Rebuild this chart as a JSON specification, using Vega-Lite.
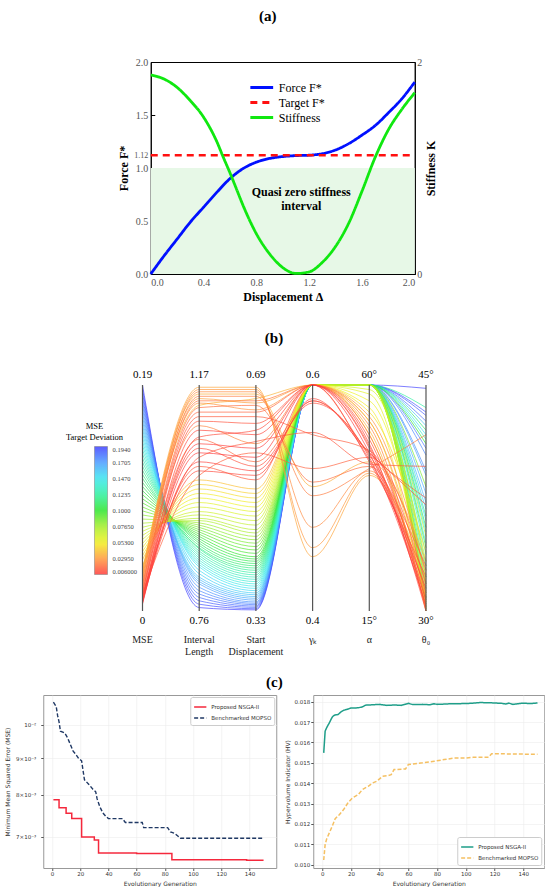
{
"$schema":"https://vega.github.io/schema/vega-lite/v6.json",
"background":"white",
"padding":{"left":4,"top":8,"right":0,"bottom":0},
"config":{"view":{"stroke":null},"title":{"font":"Liberation Serif","fontSize":15,"fontWeight":"bold","color":"#000","anchor":"middle"}},
"datasets":{
"force":[{"d":0,"F":0},{"d":0.1,"F":0.17},{"d":0.2,"F":0.33},{"d":0.3,"F":0.49},{"d":0.4,"F":0.63},{"d":0.5,"F":0.77},{"d":0.6,"F":0.9},{"d":0.7,"F":0.995},{"d":0.8,"F":1.055},{"d":0.9,"F":1.09},{"d":1.0,"F":1.108},{"d":1.1,"F":1.117},{"d":1.2,"F":1.121},{"d":1.3,"F":1.135},{"d":1.4,"F":1.17},{"d":1.5,"F":1.23},{"d":1.6,"F":1.31},{"d":1.7,"F":1.4},{"d":1.8,"F":1.52},{"d":1.9,"F":1.65},{"d":2.0,"F":1.81}],
"stiff":[{"d":0,"K":1.877},{"d":0.1,"K":1.84},{"d":0.2,"K":1.76},{"d":0.3,"K":1.635},{"d":0.4,"K":1.48},{"d":0.5,"K":1.25},{"d":0.55,"K":1.1},{"d":0.6,"K":0.955},{"d":0.65,"K":0.8},{"d":0.7,"K":0.645},{"d":0.8,"K":0.38},{"d":0.9,"K":0.19},{"d":1.0,"K":0.06},{"d":1.1,"K":0.005},{"d":1.2,"K":0.02},{"d":1.3,"K":0.11},{"d":1.4,"K":0.26},{"d":1.5,"K":0.48},{"d":1.6,"K":0.78},{"d":1.7,"K":1.1},{"d":1.8,"K":1.36},{"d":1.9,"K":1.55},{"d":2.0,"K":1.71}],
"pc":[
{"mse":0.194,"il":0.7662,"sd":0.3318,"g":0.6,"a":60,"t":44.78},
{"mse":0.1905,"il":0.7723,"sd":0.3336,"g":0.6,"a":60,"t":43.2},
{"mse":0.187,"il":0.7785,"sd":0.3358,"g":0.6,"a":60,"t":42.98},
{"mse":0.1835,"il":0.7846,"sd":0.3379,"g":0.6,"a":60,"t":42.6},
{"mse":0.18,"il":0.7908,"sd":0.3401,"g":0.6,"a":60,"t":40.8},
{"mse":0.1765,"il":0.7969,"sd":0.3422,"g":0.6,"a":60,"t":40.35},
{"mse":0.173,"il":0.8031,"sd":0.3444,"g":0.6,"a":60,"t":39.3},
{"mse":0.1696,"il":0.8092,"sd":0.3473,"g":0.6,"a":60,"t":39},
{"mse":0.1661,"il":0.8133,"sd":0.3502,"g":0.6,"a":60,"t":37.8},
{"mse":0.1626,"il":0.8174,"sd":0.353,"g":0.6,"a":60,"t":37.2},
{"mse":0.1591,"il":0.8215,"sd":0.3559,"g":0.6,"a":60,"t":42.3},
{"mse":0.1556,"il":0.8277,"sd":0.3588,"g":0.6,"a":60,"t":36.75},
{"mse":0.1521,"il":0.8338,"sd":0.3624,"g":0.6,"a":60,"t":36},
{"mse":0.1486,"il":0.84,"sd":0.366,"g":0.6,"a":60,"t":41.7},
{"mse":0.1451,"il":0.8441,"sd":0.3696,"g":0.6,"a":60,"t":35.25},
{"mse":0.1417,"il":0.8482,"sd":0.3732,"g":0.6,"a":60,"t":34.5},
{"mse":0.1382,"il":0.8523,"sd":0.3768,"g":0.6,"a":60,"t":33.75},
{"mse":0.1347,"il":0.8564,"sd":0.3804,"g":0.6,"a":60,"t":41.4},
{"mse":0.1312,"il":0.8605,"sd":0.384,"g":0.6,"a":60,"t":33},
{"mse":0.1277,"il":0.8646,"sd":0.3876,"g":0.6,"a":60,"t":32.25},
{"mse":0.1242,"il":0.8687,"sd":0.3912,"g":0.6,"a":60,"t":43.5},
{"mse":0.1207,"il":0.8728,"sd":0.3948,"g":0.6,"a":60,"t":36.3},
{"mse":0.1172,"il":0.8748,"sd":0.3984,"g":0.6,"a":60,"t":31.5},
{"mse":0.1138,"il":0.8789,"sd":0.402,"g":0.6,"a":60,"t":42},
{"mse":0.1103,"il":0.883,"sd":0.4056,"g":0.6,"a":60,"t":30.9},
{"mse":0.1068,"il":0.8871,"sd":0.4092,"g":0.6,"a":60,"t":35.55},
{"mse":0.1033,"il":0.8912,"sd":0.4128,"g":0.6,"a":60,"t":30.45},
{"mse":0.0998,"il":0.8953,"sd":0.4164,"g":0.6,"a":60,"t":41.1},
{"mse":0.0963,"il":0.8994,"sd":0.4218,"g":0.6,"a":60,"t":30.15},
{"mse":0.0928,"il":0.9035,"sd":0.4272,"g":0.6,"a":60,"t":34.2},
{"mse":0.0893,"il":0.9076,"sd":0.4326,"g":0.6,"a":60,"t":31.8},
{"mse":0.0859,"il":0.9117,"sd":0.438,"g":0.6,"a":60,"t":38.25},
{"mse":0.0824,"il":0.9158,"sd":0.4434,"g":0.6,"a":60,"t":30.75},
{"mse":0.0789,"il":0.9199,"sd":0.4488,"g":0.6,"a":60,"t":32.7},
{"mse":0.0754,"il":0.924,"sd":0.4542,"g":0.6,"a":60,"t":30.3},
{"mse":0.0719,"il":0.9281,"sd":0.4596,"g":0.6,"a":60,"t":34.95},
{"mse":0.0684,"il":0.9343,"sd":0.4668,"g":0.6,"a":60,"t":31.2},
{"mse":0.0649,"il":0.9404,"sd":0.474,"g":0.6,"a":60,"t":30},
{"mse":0.0614,"il":0.9486,"sd":0.4812,"g":0.6,"a":59.1,"t":33.3},
{"mse":0.058,"il":0.9568,"sd":0.4884,"g":0.6,"a":58.2,"t":30.6},
{"mse":0.0545,"il":0.965,"sd":0.4956,"g":0.6,"a":56.85,"t":32.1},
{"mse":0.051,"il":0.9732,"sd":0.5028,"g":0.6,"a":55.5,"t":30.15},
{"mse":0.0475,"il":0.9814,"sd":0.51,"g":0.6,"a":54.6,"t":33.9},
{"mse":0.044,"il":0.9896,"sd":0.5172,"g":0.6,"a":52.8,"t":30.9},
{"mse":0.039,"il":0.9978,"sd":0.5244,"g":0.6,"a":50.1,"t":31.05},
{"mse":0.036,"il":1.1331,"sd":0.6684,"g":0.6,"a":51,"t":30},
{"mse":0.0342,"il":1.1536,"sd":0.6756,"g":0.51,"a":44.7,"t":33.3},
{"mse":0.0324,"il":1.1659,"sd":0.6864,"g":0.448,"a":42,"t":31.95},
{"mse":0.0306,"il":1.1454,"sd":0.6612,"g":0.6,"a":52.8,"t":31.65},
{"mse":0.0288,"il":1.1618,"sd":0.6828,"g":0.456,"a":42.45,"t":30.3},
{"mse":0.027,"il":1.1372,"sd":0.6504,"g":0.6,"a":53.7,"t":32.4},
{"mse":0.0252,"il":1.1577,"sd":0.6792,"g":0.474,"a":42.9,"t":31.35},
{"mse":0.0234,"il":1.0962,"sd":0.5964,"g":0.6,"a":51.9,"t":30},
{"mse":0.0216,"il":1.1495,"sd":0.672,"g":0.502,"a":43.35,"t":41.7},
{"mse":0.0198,"il":1.1413,"sd":0.6648,"g":0.6,"a":50.1,"t":30.6},
{"mse":0.018,"il":1.129,"sd":0.6576,"g":0.514,"a":43.8,"t":30.15},
{"mse":0.0164,"il":1.0716,"sd":0.5676,"g":0.586,"a":46.05,"t":33},
{"mse":0.0156,"il":1.1208,"sd":0.6468,"g":0.6,"a":47.85,"t":30.9},
{"mse":0.0148,"il":1.006,"sd":0.582,"g":0.526,"a":45.6,"t":32.7},
{"mse":0.014,"il":1.1126,"sd":0.6396,"g":0.556,"a":46.95,"t":31.8},
{"mse":0.0132,"il":1.0224,"sd":0.5388,"g":0.6,"a":46.5,"t":37.5},
{"mse":0.0124,"il":1.0388,"sd":0.6,"g":0.558,"a":44.25,"t":39.6},
{"mse":0.0116,"il":1.1044,"sd":0.6288,"g":0.6,"a":49.2,"t":31.2},
{"mse":0.0108,"il":1.0552,"sd":0.5604,"g":0.584,"a":45.6,"t":30.45},
{"mse":0.01,"il":1.0757,"sd":0.618,"g":0.6,"a":44.7,"t":32.25},
{"mse":0.0092,"il":1.0142,"sd":0.546,"g":0.588,"a":46.5,"t":37.05},
{"mse":0.0084,"il":1.088,"sd":0.6108,"g":0.6,"a":48.3,"t":30},
{"mse":0.0076,"il":1.0306,"sd":0.5532,"g":0.586,"a":45.15,"t":31.5},
{"mse":0.0068,"il":1.0634,"sd":0.5892,"g":0.6,"a":47.4,"t":30.3},
{"mse":0.006,"il":1.047,"sd":0.5748,"g":0.6,"a":46.5,"t":30.75}
],
"pcaxes":[
{"key":"mseN","top":"0.19","bot":"0","name":"MSE"},
{"key":"ilN","top":"1.17","bot":"0.76","name":"Interval\nLength"},
{"key":"sdN","top":"0.69","bot":"0.33","name":"Start\nDisplacement"},
{"key":"gN","top":"0.6","bot":"0.4","name":"γₖ"},
{"key":"aN","top":"60°","bot":"15°","name":"α"},
{"key":"tN","top":"45°","bot":"30°","name":"θ₀"}
],
"c1":[
{"g":1,"v":0.00788,"m":"Proposed NSGA-II"},{"g":5,"v":0.00768,"m":"Proposed NSGA-II"},{"g":10,"v":0.00755,"m":"Proposed NSGA-II"},{"g":14,"v":0.00742,"m":"Proposed NSGA-II"},{"g":21,"v":0.007,"m":"Proposed NSGA-II"},{"g":30,"v":0.00693,"m":"Proposed NSGA-II"},{"g":33,"v":0.00665,"m":"Proposed NSGA-II"},{"g":60,"v":0.00664,"m":"Proposed NSGA-II"},{"g":85,"v":0.00651,"m":"Proposed NSGA-II"},{"g":138,"v":0.0065,"m":"Proposed NSGA-II"},{"g":150,"v":0.0065,"m":"Proposed NSGA-II"},
{"g":1,"v":0.01075,"m":"Benchmarked MOPSO"},{"g":2,"v":0.01068,"m":"Benchmarked MOPSO"},{"g":3,"v":0.0106,"m":"Benchmarked MOPSO"},{"g":4,"v":0.0103,"m":"Benchmarked MOPSO"},{"g":5,"v":0.0101,"m":"Benchmarked MOPSO"},{"g":6,"v":0.0098,"m":"Benchmarked MOPSO"},{"g":9,"v":0.00975,"m":"Benchmarked MOPSO"},{"g":11,"v":0.0096,"m":"Benchmarked MOPSO"},{"g":13,"v":0.0094,"m":"Benchmarked MOPSO"},{"g":15,"v":0.0092,"m":"Benchmarked MOPSO"},{"g":17,"v":0.0091,"m":"Benchmarked MOPSO"},{"g":19,"v":0.00898,"m":"Benchmarked MOPSO"},{"g":21,"v":0.00892,"m":"Benchmarked MOPSO"},{"g":23,"v":0.0084,"m":"Benchmarked MOPSO"},{"g":26,"v":0.00828,"m":"Benchmarked MOPSO"},{"g":29,"v":0.00815,"m":"Benchmarked MOPSO"},{"g":31,"v":0.00808,"m":"Benchmarked MOPSO"},{"g":32,"v":0.0079,"m":"Benchmarked MOPSO"},{"g":34,"v":0.0077,"m":"Benchmarked MOPSO"},{"g":36,"v":0.00756,"m":"Benchmarked MOPSO"},{"g":38,"v":0.00748,"m":"Benchmarked MOPSO"},{"g":40,"v":0.00742,"m":"Benchmarked MOPSO"},{"g":50,"v":0.00742,"m":"Benchmarked MOPSO"},{"g":52,"v":0.00733,"m":"Benchmarked MOPSO"},{"g":64,"v":0.00733,"m":"Benchmarked MOPSO"},{"g":65,"v":0.00721,"m":"Benchmarked MOPSO"},{"g":82,"v":0.00721,"m":"Benchmarked MOPSO"},{"g":84,"v":0.00711,"m":"Benchmarked MOPSO"},{"g":87,"v":0.00708,"m":"Benchmarked MOPSO"},{"g":91,"v":0.00697,"m":"Benchmarked MOPSO"},{"g":150,"v":0.00697,"m":"Benchmarked MOPSO"}
],
"c2":[
{"g":1,"v":0.01549,"m":"Proposed NSGA-II"},{"g":2,"v":0.01656,"m":"Proposed NSGA-II"},{"g":3,"v":0.01672,"m":"Proposed NSGA-II"},{"g":4,"v":0.01685,"m":"Proposed NSGA-II"},{"g":5,"v":0.01697,"m":"Proposed NSGA-II"},{"g":6,"v":0.01712,"m":"Proposed NSGA-II"},{"g":7,"v":0.01725,"m":"Proposed NSGA-II"},{"g":8,"v":0.01732,"m":"Proposed NSGA-II"},{"g":9,"v":0.01735,"m":"Proposed NSGA-II"},{"g":11,"v":0.01737,"m":"Proposed NSGA-II"},{"g":13,"v":0.0175,"m":"Proposed NSGA-II"},{"g":15,"v":0.01758,"m":"Proposed NSGA-II"},{"g":17,"v":0.01762,"m":"Proposed NSGA-II"},{"g":20,"v":0.01769,"m":"Proposed NSGA-II"},{"g":25,"v":0.0177,"m":"Proposed NSGA-II"},{"g":28,"v":0.01775,"m":"Proposed NSGA-II"},{"g":30,"v":0.01783,"m":"Proposed NSGA-II"},{"g":35,"v":0.01785,"m":"Proposed NSGA-II"},{"g":40,"v":0.01787,"m":"Proposed NSGA-II"},{"g":45,"v":0.01782,"m":"Proposed NSGA-II"},{"g":50,"v":0.01784,"m":"Proposed NSGA-II"},{"g":55,"v":0.01782,"m":"Proposed NSGA-II"},{"g":60,"v":0.01792,"m":"Proposed NSGA-II"},{"g":63,"v":0.01786,"m":"Proposed NSGA-II"},{"g":70,"v":0.01787,"m":"Proposed NSGA-II"},{"g":75,"v":0.01785,"m":"Proposed NSGA-II"},{"g":78,"v":0.0179,"m":"Proposed NSGA-II"},{"g":80,"v":0.01787,"m":"Proposed NSGA-II"},{"g":90,"v":0.0179,"m":"Proposed NSGA-II"},{"g":100,"v":0.01791,"m":"Proposed NSGA-II"},{"g":105,"v":0.01793,"m":"Proposed NSGA-II"},{"g":110,"v":0.01796,"m":"Proposed NSGA-II"},{"g":115,"v":0.01795,"m":"Proposed NSGA-II"},{"g":120,"v":0.01794,"m":"Proposed NSGA-II"},{"g":125,"v":0.01792,"m":"Proposed NSGA-II"},{"g":128,"v":0.01789,"m":"Proposed NSGA-II"},{"g":130,"v":0.01793,"m":"Proposed NSGA-II"},{"g":133,"v":0.01787,"m":"Proposed NSGA-II"},{"g":136,"v":0.0179,"m":"Proposed NSGA-II"},{"g":140,"v":0.01793,"m":"Proposed NSGA-II"},{"g":145,"v":0.01791,"m":"Proposed NSGA-II"},{"g":150,"v":0.01794,"m":"Proposed NSGA-II"},
{"g":1,"v":0.01023,"m":"Benchmarked MOPSO"},{"g":2,"v":0.011,"m":"Benchmarked MOPSO"},{"g":3,"v":0.01125,"m":"Benchmarked MOPSO"},{"g":5,"v":0.01158,"m":"Benchmarked MOPSO"},{"g":7,"v":0.0119,"m":"Benchmarked MOPSO"},{"g":9,"v":0.01226,"m":"Benchmarked MOPSO"},{"g":12,"v":0.01247,"m":"Benchmarked MOPSO"},{"g":15,"v":0.01272,"m":"Benchmarked MOPSO"},{"g":18,"v":0.01305,"m":"Benchmarked MOPSO"},{"g":21,"v":0.01328,"m":"Benchmarked MOPSO"},{"g":25,"v":0.01344,"m":"Benchmarked MOPSO"},{"g":28,"v":0.01369,"m":"Benchmarked MOPSO"},{"g":32,"v":0.01385,"m":"Benchmarked MOPSO"},{"g":35,"v":0.01401,"m":"Benchmarked MOPSO"},{"g":38,"v":0.0141,"m":"Benchmarked MOPSO"},{"g":42,"v":0.01434,"m":"Benchmarked MOPSO"},{"g":46,"v":0.01438,"m":"Benchmarked MOPSO"},{"g":48,"v":0.01442,"m":"Benchmarked MOPSO"},{"g":50,"v":0.01467,"m":"Benchmarked MOPSO"},{"g":58,"v":0.0147,"m":"Benchmarked MOPSO"},{"g":60,"v":0.01492,"m":"Benchmarked MOPSO"},{"g":70,"v":0.015,"m":"Benchmarked MOPSO"},{"g":78,"v":0.01508,"m":"Benchmarked MOPSO"},{"g":85,"v":0.01516,"m":"Benchmarked MOPSO"},{"g":92,"v":0.01524,"m":"Benchmarked MOPSO"},{"g":100,"v":0.01524,"m":"Benchmarked MOPSO"},{"g":105,"v":0.01527,"m":"Benchmarked MOPSO"},{"g":116,"v":0.01528,"m":"Benchmarked MOPSO"},{"g":118,"v":0.01545,"m":"Benchmarked MOPSO"},{"g":150,"v":0.01542,"m":"Benchmarked MOPSO"}
]
},
"center":true,
"spacing":16,
"resolve":{"scale":{"color":"independent","strokeDash":"independent"},"legend":{"color":"independent","strokeDash":"independent"}},
"vconcat":[
{
"center":true,
"spacing":28,
"resolve":{"scale":{"color":"independent","strokeDash":"independent"},"legend":{"color":"independent","strokeDash":"independent"}},
"vconcat":[
{
"title":{"text":"(a)","offset":33,"anchor":"middle","dx":-15},
"width":264,"height":212,
"view":{"stroke":"#000","strokeWidth":1},
"layer":[
{"layer":[
{"data":{"values":[{"d":0,"F":1},{"d":2,"F":1}]},
"mark":{"type":"area","color":"#e7f8e7"},
"encoding":{
"x":{"field":"d","type":"quantitative","scale":{"domain":[0,2],"nice":false,"zero":false},
"axis":{"values":[0,0.2,0.4,0.6,0.8,1,1.2,1.4,1.6,1.8,2],"format":".1f","title":"Displacement Δ","titleFont":"Liberation Serif","titleFontSize":12,"titleFontWeight":"bold","titleColor":"#000","titlePadding":4,"labelFont":"Liberation Serif","labelFontSize":10,"labelColor":"#555","tickSize":-4,"tickColor":"#000","labelPadding":7,"domainColor":"#000","grid":false}},
"y":{"field":"F","type":"quantitative","scale":{"domain":[0,2],"nice":false},
"axis":{"values":[0,0.5,1,1.12,1.5,2],"labelExpr":"datum.value == 1.12 ? '1.12' : format(datum.value, '.1f')","labelFontSize":{"condition":{"test":"datum.value == 1.12","value":8},"value":10},"title":"Force F*","titleFont":"Liberation Serif","titleFontSize":12,"titleFontWeight":"bold","titleColor":"#000","titlePadding":3,"labelFont":"Liberation Serif","labelColor":"#555","tickSize":-4,"tickColor":"#000","labelPadding":7,"domainColor":"#000","grid":false}}}},
{"data":{"name":"force"},
"transform":[{"calculate":"'Force F*'","as":"series"}],
"mark":{"type":"line","strokeWidth":2.8,"interpolate":"monotone"},
"encoding":{"x":{"field":"d","type":"quantitative"},"y":{"field":"F","type":"quantitative"},
"color":{"field":"series","type":"nominal","scale":{"domain":["Force F*","Target F*","Stiffness"],"range":["#0010ff","#ff1010","#10e810"]},
"legend":{"title":null,"orient":"none","legendX":98,"legendY":18,"symbolType":"stroke","symbolSize":520,"symbolStrokeWidth":3,"labelFont":"Liberation Serif","labelFontSize":12,"labelColor":"#000","rowPadding":0,"clipHeight":15,"labelOffset":4}},
"strokeDash":{"field":"series","type":"nominal","scale":{"domain":["Force F*","Target F*","Stiffness"],"range":[[1,0],[7,5],[1,0]]}}}},
{"data":{"values":[{"d":0,"F":1.12},{"d":2,"F":1.12}]},
"transform":[{"calculate":"'Target F*'","as":"series"}],
"mark":{"type":"line","strokeWidth":2.4},
"encoding":{"x":{"field":"d","type":"quantitative"},"y":{"field":"F","type":"quantitative"},
"color":{"field":"series","type":"nominal"},"strokeDash":{"field":"series","type":"nominal"}}},
{"data":{"values":[{"d":1.14,"F":0.772,"label":"Quasi zero stiffness\ninterval"}]},
"mark":{"type":"text","font":"Liberation Serif","fontSize":12,"fontWeight":"bold","lineBreak":"\n","lineHeight":13.5,"align":"center","baseline":"middle","color":"#000"},
"encoding":{"x":{"field":"d","type":"quantitative"},"y":{"field":"F","type":"quantitative"},"text":{"field":"label"}}}
]},
{"data":{"name":"stiff"},
"transform":[{"calculate":"'Stiffness'","as":"series"}],
"mark":{"type":"line","strokeWidth":2.8,"interpolate":"monotone"},
"encoding":{"x":{"field":"d","type":"quantitative"},
"y":{"field":"K","type":"quantitative","scale":{"domain":[0,2],"nice":false},
"axis":{"orient":"right","values":[0,1,2],"format":"d","title":"Stiffness K","titleAngle":270,"titleBaseline":"top","titleFont":"Liberation Serif","titleFontSize":12,"titleFontWeight":"bold","titleColor":"#000","titlePadding":4,"labelFont":"Liberation Serif","labelFontSize":10,"labelColor":"#555","tickSize":-4,"tickColor":"#000","labelPadding":6,"domainColor":"#000","grid":false}},
"color":{"field":"series","type":"nominal"},"strokeDash":{"field":"series","type":"nominal"}}}
],
"resolve":{"scale":{"y":"independent"}}
},
{
"title":{"text":"(b)","offset":23,"anchor":"middle","dx":-20},
"width":303,"height":226,
"layer":[
{"data":{"name":"pc"},
"transform":[
{"window":[{"op":"row_number","as":"id"}]},
{"calculate":"datum.mse/0.194","as":"mseN"},
{"calculate":"(datum.il-0.76)/0.41","as":"ilN"},
{"calculate":"(datum.sd-0.33)/0.36","as":"sdN"},
{"calculate":"(datum.g-0.4)/0.2","as":"gN"},
{"calculate":"(datum.a-15)/45","as":"aN"},
{"calculate":"(datum.t-30)/15","as":"tN"},
{"fold":["mseN","ilN","sdN","gN","aN","tN"],"as":["key","norm"]}
],
"mark":{"type":"line","strokeWidth":0.8,"opacity":0.85,"interpolate":"monotone"},
"encoding":{
"x":{"field":"key","type":"nominal","sort":["mseN","ilN","sdN","gN","aN","tN"],"scale":{"type":"point","padding":0.172,"align":0},"axis":null},
"y":{"field":"norm","type":"quantitative","scale":{"domain":[0,1],"nice":false,"zero":false},"axis":null},
"detail":{"field":"id","type":"quantitative"},
"color":{"field":"mse","type":"quantitative",
"scale":{"domain":[0.006,0.0295,0.053,0.0765,0.1,0.1235,0.147,0.1705,0.194],"range":["#ff3b3b","#ff9a3c","#f2f21e","#a6ee2a","#2ee62e","#2ef0a0","#3ae8f0","#4a9cff","#4040ff"],"interpolate":"rgb"},
"legend":{"orient":"none","legendX":-77,"legendY":37,"title":["MSE","Target Deviation"],"titleFont":"Liberation Serif","titleFontSize":8.5,"titleFontWeight":"normal","titleColor":"#000","titleAlign":"center","titleAnchor":"start","titleLineHeight":11,"titlePadding":5,"gradientLength":128,"gradientThickness":13,"gradientStrokeColor":"#666","gradientStrokeWidth":0.5,"values":[0.006,0.0295,0.053,0.0765,0.1,0.1235,0.147,0.1705,0.194],"format":".4r","labelFont":"Liberation Serif","labelFontSize":6.5,"labelColor":"#444","labelOffset":5,"labelOverlap":false,"direction":"vertical"}}}},
{"data":{"name":"pcaxes"},
"mark":{"type":"rule","color":"#555","strokeWidth":1.2},
"encoding":{"x":{"field":"key","type":"nominal","sort":["mseN","ilN","sdN","gN","aN","tN"],"axis":null},"y":{"datum":0,"axis":null},"y2":{"datum":1}}},
{"data":{"name":"pcaxes"},
"mark":{"type":"text","font":"Liberation Serif","fontSize":11,"baseline":"middle","dy":-10,"color":"#000"},
"encoding":{"x":{"field":"key","type":"nominal","sort":["mseN","ilN","sdN","gN","aN","tN"],"axis":null},"y":{"datum":1,"axis":null},"text":{"field":"top"}}},
{"data":{"name":"pcaxes"},
"mark":{"type":"text","font":"Liberation Serif","fontSize":11,"baseline":"middle","dy":10,"color":"#000"},
"encoding":{"x":{"field":"key","type":"nominal","sort":["mseN","ilN","sdN","gN","aN","tN"],"axis":null},"y":{"datum":0,"axis":null},"text":{"field":"bot"}}},
{"data":{"name":"pcaxes"},
"mark":{"type":"text","font":"Liberation Serif","fontSize":10,"baseline":"top","dy":24,"lineBreak":"\n","lineHeight":12.3,"color":"#222"},
"encoding":{"x":{"field":"key","type":"nominal","sort":["mseN","ilN","sdN","gN","aN","tN"],"axis":null},"y":{"datum":0,"axis":null},"text":{"field":"name"}}}
]
}
]
},
{
"title":{"text":"(c)","offset":5,"anchor":"middle"},
"spacing":6,
"resolve":{"scale":{"color":"independent","strokeDash":"independent"},"legend":{"color":"independent","strokeDash":"independent"}},
"hconcat":[
{
"width":233,"height":173,
"view":{"stroke":"#999","strokeWidth":1},
"data":{"name":"c1"},
"encoding":{
"x":{"field":"g","type":"quantitative","scale":{"domain":[-6.2,159],"nice":false,"zero":false},
"axis":{"values":[0,20,40,60,80,100,120,140],"title":"Evolutionary Generation","labelFont":"DejaVu Sans","labelFontSize":5.5,"labelColor":"#333","titleFont":"DejaVu Sans","titleFontSize":6,"titleFontWeight":"normal","titleColor":"#333","tickSize":2.5,"tickColor":"#555","domain":false,"grid":true,"gridColor":"#ececec","gridWidth":0.6,"labelPadding":1,"titlePadding":3}},
"y":{"field":"v","type":"quantitative","scale":{"type":"log","domain":[0.00634,0.011],"nice":false},
"axis":{"values":[0.007,0.008,0.009,0.01],"labelExpr":"datum.value > 0.0095 ? '10⁻²' : format(datum.value*1000,'.0f') + '×10⁻³'","title":"Minimum Mean Squared Error (MSE)","labelFont":"DejaVu Sans","labelFontSize":5.5,"labelColor":"#333","titleFont":"DejaVu Sans","titleFontSize":6,"titleFontWeight":"normal","titleColor":"#333","tickSize":2.5,"tickColor":"#555","domain":false,"grid":true,"gridColor":"#ececec","gridWidth":0.6,"labelPadding":5,"titlePadding":5}},
"color":{"field":"m","type":"nominal","scale":{"domain":["Proposed NSGA-II","Benchmarked MOPSO"],"range":["#f5283c","#1f3864"]},
"legend":{"title":null,"orient":"top-right","offset":2,"symbolType":"stroke","symbolSize":150,"symbolStrokeWidth":1.5,"labelFont":"DejaVu Sans","labelFontSize":5.5,"labelColor":"#333","strokeColor":"#ccc","fillColor":"#fff","padding":3,"cornerRadius":2,"rowPadding":-3}},
"strokeDash":{"field":"m","type":"nominal","scale":{"domain":["Proposed NSGA-II","Benchmarked MOPSO"],"range":[[1,0],[4,2]]}}
},
"layer":[
{"transform":[{"filter":"datum.m == 'Proposed NSGA-II'"}],"mark":{"type":"line","interpolate":"step-after","strokeWidth":1.5}},
{"transform":[{"filter":"datum.m == 'Benchmarked MOPSO'"}],"mark":{"type":"line","strokeWidth":1.4}}
]
},
{
"width":231,"height":173,
"view":{"stroke":"#999","strokeWidth":1},
"data":{"name":"c2"},
"mark":{"type":"line","strokeWidth":1.5},
"encoding":{
"x":{"field":"g","type":"quantitative","scale":{"domain":[-6.3,154.7],"nice":false,"zero":false},
"axis":{"values":[0,20,40,60,80,100,120,140],"title":"Evolutionary Generation","labelFont":"DejaVu Sans","labelFontSize":5.5,"labelColor":"#333","titleFont":"DejaVu Sans","titleFontSize":6,"titleFontWeight":"normal","titleColor":"#333","tickSize":2.5,"tickColor":"#555","domain":false,"grid":true,"gridColor":"#ececec","gridWidth":0.6,"labelPadding":1,"titlePadding":3}},
"y":{"field":"v","type":"quantitative","scale":{"domain":[0.00984,0.01833],"nice":false,"zero":false},
"axis":{"values":[0.01,0.011,0.012,0.013,0.014,0.015,0.016,0.017,0.018],"format":".3f","title":"Hypervolume Indicator (HV)","labelFont":"DejaVu Sans","labelFontSize":5.5,"labelColor":"#333","titleFont":"DejaVu Sans","titleFontSize":6,"titleFontWeight":"normal","titleColor":"#333","tickSize":2.5,"tickColor":"#555","domain":false,"grid":true,"gridColor":"#ececec","gridWidth":0.6,"labelPadding":1,"titlePadding":4}},
"color":{"field":"m","type":"nominal","scale":{"domain":["Proposed NSGA-II","Benchmarked MOPSO"],"range":["#1f9e89","#f5c062"]},
"legend":{"title":null,"orient":"bottom-right","offset":3,"symbolType":"stroke","symbolSize":150,"symbolStrokeWidth":1.5,"labelFont":"DejaVu Sans","labelFontSize":5.5,"labelColor":"#333","strokeColor":"#ccc","fillColor":"#fff","padding":3,"cornerRadius":2,"rowPadding":-3}},
"strokeDash":{"field":"m","type":"nominal","scale":{"domain":["Proposed NSGA-II","Benchmarked MOPSO"],"range":[[1,0],[4,2]]}}
}
}
]
}
]
}
